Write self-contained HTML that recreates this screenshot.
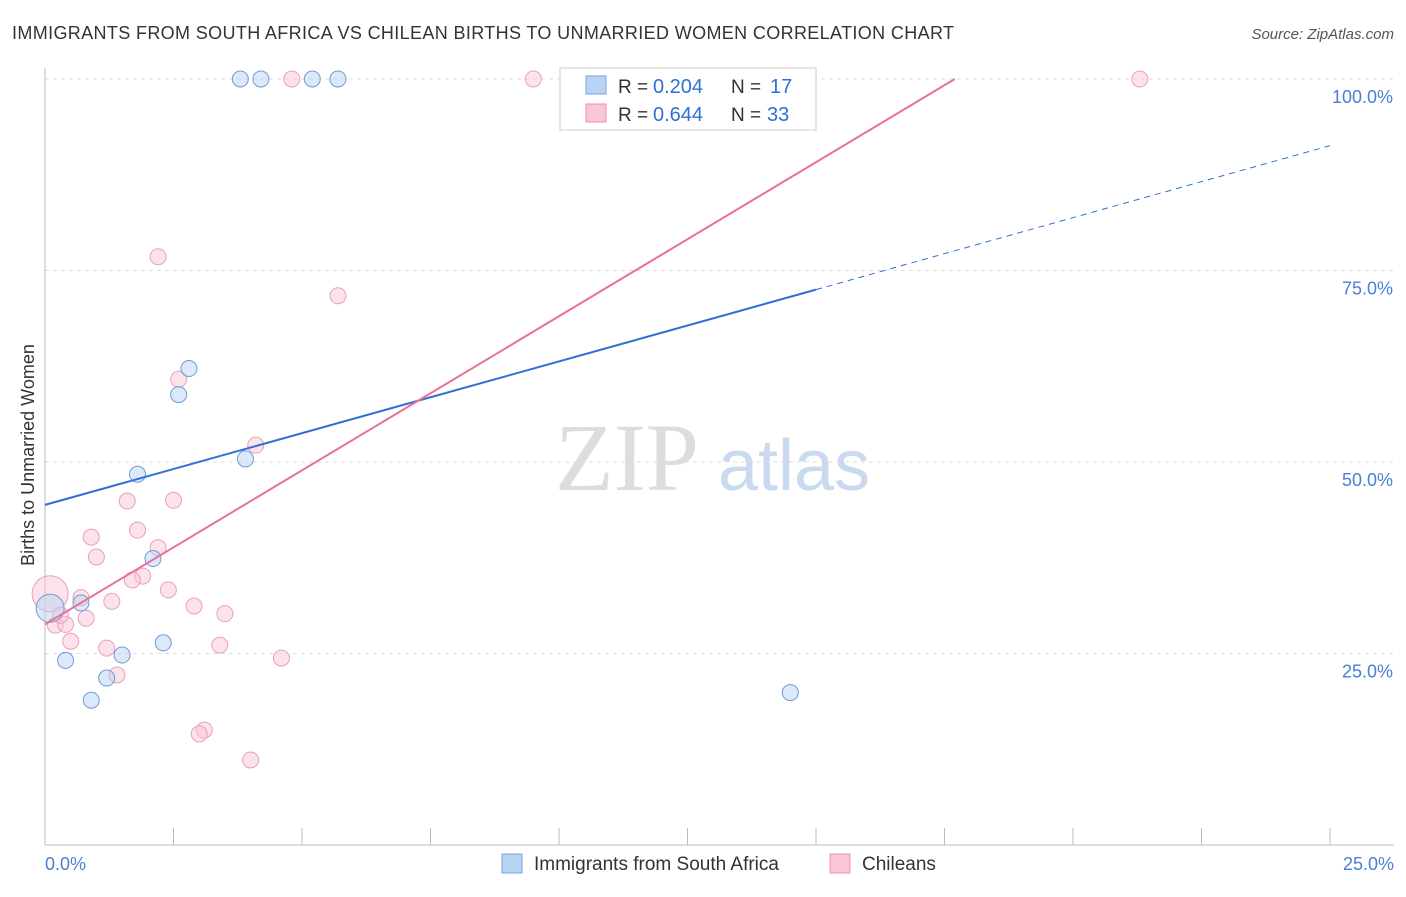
<!DOCTYPE html>
<html><head><meta charset="utf-8"><style>
body{margin:0;background:#fff;font-family:"Liberation Sans",sans-serif;}
</style></head><body>
<svg width="1406" height="892" xmlns="http://www.w3.org/2000/svg">
<text x="12" y="39" font-size="18" fill="#333" textLength="942">IMMIGRANTS FROM SOUTH AFRICA VS CHILEAN BIRTHS TO UNMARRIED WOMEN CORRELATION CHART</text>
<text x="1394" y="39" font-size="15" fill="#555" font-style="italic" text-anchor="end">Source: ZipAtlas.com</text>
<text x="555" y="490" font-size="96" fill="#ddd" font-family="Liberation Serif">ZIP</text>
<text x="718" y="490" font-size="72" fill="#c9d9ef">atlas</text>
<g id="grid"></g>
<g id="marks"></g>
<text transform="translate(34,455) rotate(-90)" font-size="18" fill="#333" text-anchor="middle">Births to Unmarried Women</text>
<text x="45" y="870" font-size="18" fill="#4a7fd4">0.0%</text>
<text x="1394" y="870" font-size="18" fill="#4a7fd4" text-anchor="end">25.0%</text>
<g>
<rect x="560" y="68" width="256" height="62" fill="#fff" stroke="#ccc"/>
<rect x="586" y="76" width="20" height="18" fill="#b9d3f5" stroke="#7aa6e0"/>
<rect x="586" y="104" width="20" height="18" fill="#f9c6d5" stroke="#eb8fab"/>
<text x="618" y="93" font-size="19" fill="#333">R =</text>
<text x="653" y="93" font-size="20" fill="#2f6fd6">0.204</text>
<text x="731" y="93" font-size="19" fill="#333">N =</text>
<text x="770" y="93" font-size="20" fill="#2f6fd6">17</text>
<text x="618" y="121" font-size="19" fill="#333">R =</text>
<text x="653" y="121" font-size="20" fill="#2f6fd6">0.644</text>
<text x="731" y="121" font-size="19" fill="#333">N =</text>
<text x="767" y="121" font-size="20" fill="#2f6fd6">33</text>
</g>
<g>
<rect x="502" y="854" width="20" height="19" fill="#b9d3f5" stroke="#7aa6e0"/>
<text x="534" y="870" font-size="19" fill="#333">Immigrants from South Africa</text>
<rect x="830" y="854" width="20" height="19" fill="#f9c6d5" stroke="#eb8fab"/>
<text x="862" y="870" font-size="19" fill="#333">Chileans</text>
</g>
</svg>
<script>
const yTicks=[25,50,75,100];
const xTicks=[0,2.5,5,7.5,10,12.5,15,17.5,20,22.5,25];
const blueX=[3.8,4.2,5.2,5.7,2.8,2.6,1.8,3.9,2.1,0.7,0.1,0.4,1.5,1.2,0.9,2.3,14.5];
const blueY=[100,100,100,100,62.2,58.8,48.4,50.4,37.4,31.6,30.9,24.1,24.8,21.8,18.9,26.4,19.9];
const blueR=[8,8,8,8,8,8,8,8,8,8,14,8,8,8,8,8,8];
const pinkX=[4.8,9.5,21.3,2.2,5.7,2.6,4.1,1.6,2.5,1.8,0.9,2.2,1.0,1.9,1.7,0.7,1.3,2.4,2.9,3.5,0.1,0.2,0.4,0.8,0.5,1.2,3.4,4.6,1.4,3.1,3.0,4.0,0.3];
const pinkY=[100,100,100,76.8,71.7,60.8,52.2,44.9,45.0,41.1,40.2,38.8,37.6,35.1,34.6,32.3,31.8,33.3,31.2,30.2,32.8,28.7,28.8,29.6,26.6,25.7,26.1,24.4,22.2,15.0,14.5,11.1,30.0];
const pinkR=[8,8,8,8,8,8,8,8,8,8,8,8,8,8,8,8,8,8,8,8,18,8,8,8,8,8,8,8,8,8,8,8,8];
const blueLine=[0,44.4,15,72.5,25,91.3];
const pinkLine=[0,28.8,17.7,100];
const X=v=>45+v*51.4, Y=v=>845-v*7.66;
const NS="http://www.w3.org/2000/svg";
const g=document.getElementById('grid'), m=document.getElementById('marks');
function mk(tag,attrs,parent){const e=document.createElementNS(NS,tag);for(const k in attrs)e.setAttribute(k,attrs[k]);parent.appendChild(e);return e;}
yTicks.forEach(t=>{
 const l=mk('line',{x1:45,x2:1394,y1:Y(t),y2:Y(t),stroke:'#ddd','stroke-dasharray':'4,4'},g);
 
 
 const tx=mk('text',{x:1393,y:Y(t)+24,'font-size':18,fill:'#4a7fd4','text-anchor':'end'},g);
 tx.textContent=t.toFixed(1)+'%';
 
 
});
mk('line',{x1:45,x2:45,y1:68,y2:845,stroke:'#bbb'},g);
mk('line',{x1:45,x2:1394,y1:845,y2:845,stroke:'#bbb'},g);
xTicks.forEach(t=>{
 const l=mk('line',{x1:X(t),x2:X(t),y1:828,y2:845,stroke:'#bbb'},g);
 
 
});
pinkX.forEach((v,i)=>{
 const c=mk('circle',{cx:X(v),cy:Y(pinkY[i]),r:pinkR[i],fill:'rgba(249,198,213,0.5)',stroke:'#eba0b7','stroke-width':1},m);
 
 
});
blueX.forEach((v,i)=>{
 const c=mk('circle',{cx:X(v),cy:Y(blueY[i]),r:blueR[i],fill:'rgba(185,211,245,0.5)',stroke:'#6f9bd6','stroke-width':1},m);
 
 
});
let l1=mk('line',{x1:X(blueLine[0]),y1:Y(blueLine[1]),x2:X(blueLine[2]),y2:Y(blueLine[3]),stroke:'#2f6fd6','stroke-width':2},m);


let l2=mk('line',{x1:X(blueLine[2]),y1:Y(blueLine[3]),x2:X(blueLine[4]),y2:Y(blueLine[5]),stroke:'#2f6fd6','stroke-width':1,'stroke-dasharray':'6,5'},m);


let l3=mk('line',{x1:X(pinkLine[0]),y1:Y(pinkLine[1]),x2:X(pinkLine[2]),y2:Y(pinkLine[3]),stroke:'#e8709a','stroke-width':2},m);


</script>
</body></html>
